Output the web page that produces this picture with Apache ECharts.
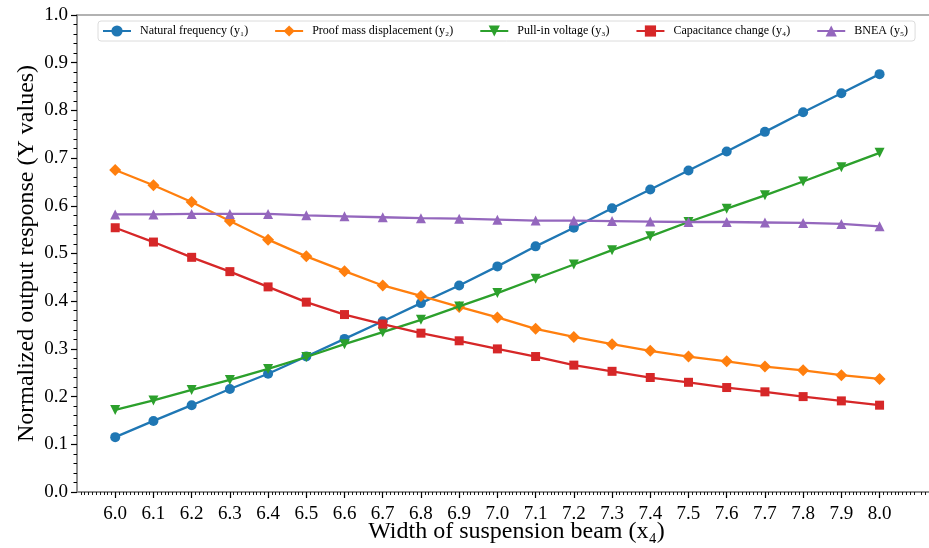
<!DOCTYPE html>
<html>
<head>
<meta charset="utf-8">
<script src="https://cdn.jsdelivr.net/npm/echarts@6/dist/echarts.min.js"></script>
<style>
  html, body { margin: 0; padding: 0; background: #fff; }
  #chart { width: 929px; height: 548px; }
</style>
</head>
<body>
<div id="chart"></div>
<script>
// Width of suspension beam (x4)
const beamWidth = [6.0, 6.1, 6.2, 6.3, 6.4, 6.5, 6.6, 6.7, 6.8, 6.9, 7.0,
                   7.1, 7.2, 7.3, 7.4, 7.5, 7.6, 7.7, 7.8, 7.9, 8.0];

// Normalized responses
const naturalFrequency = [0.115, 0.149, 0.182, 0.216, 0.248, 0.284, 0.321, 0.358, 0.396, 0.433, 0.473,
                          0.515, 0.554, 0.595, 0.634, 0.674, 0.714, 0.755, 0.796, 0.836, 0.876];
const proofMassDisp = [0.675, 0.643, 0.608, 0.568, 0.529, 0.494, 0.463, 0.433, 0.411, 0.388, 0.366,
                       0.342, 0.325, 0.310, 0.296, 0.284, 0.274, 0.263, 0.255, 0.245, 0.237];
const pullInVoltage = [0.172, 0.192, 0.214, 0.235, 0.258, 0.283, 0.310, 0.335, 0.361, 0.389, 0.417,
                       0.447, 0.477, 0.507, 0.536, 0.566, 0.594, 0.622, 0.651, 0.681, 0.711];
const capacitanceChange = [0.554, 0.524, 0.492, 0.462, 0.430, 0.398, 0.372, 0.352, 0.333, 0.317, 0.300,
                           0.284, 0.266, 0.253, 0.240, 0.230, 0.219, 0.210, 0.200, 0.191, 0.182];
const bnea = [0.582, 0.582, 0.583, 0.583, 0.583, 0.580, 0.578, 0.576, 0.574, 0.573, 0.571,
              0.569, 0.569, 0.568, 0.567, 0.566, 0.566, 0.565, 0.564, 0.562, 0.557];

const seriesNames = ['Natural frequency (y\u2081)', 'Proof mass displacement (y\u2082)',
                     'Pull-in voltage (y\u2083)', 'Capacitance change (y\u2084)', 'BNEA (y\u2085)'];
const colors = ['#1f77b4', '#ff7f0e', '#2ca02c', '#d62728', '#9467bd'];

const xTickValues = beamWidth;

const FONT = '"Liberation Serif", "Times New Roman", serif';

function pairs(ys) {
  return beamWidth.map((x, i) => [x, ys[i]]);
}

const markerDefs = [
  { symbol: 'circle', size: 10, rotate: 0 },
  { symbol: 'diamond', size: [12, 12], rotate: 0 },
  { symbol: 'triangle', size: 10, rotate: 180 },
  { symbol: 'rect', size: 9, rotate: 0 },
  { symbol: 'triangle', size: 10, rotate: 0 }
];

const values = [naturalFrequency, proofMassDisp, pullInVoltage, capacitanceChange, bnea];

const series = values.map((ys, i) => ({
  name: seriesNames[i],
  type: 'line',
  data: pairs(ys),
  symbol: markerDefs[i].symbol,
  symbolSize: markerDefs[i].size,
  symbolRotate: markerDefs[i].rotate,
  showAllSymbol: true,
  color: colors[i],
  lineStyle: { width: 2.3, color: colors[i] },
  itemStyle: { color: colors[i] },
  emphasis: { disabled: true },
  z: 2 + i
}));

const chart = echarts.init(document.getElementById('chart'), null, { renderer: 'canvas' });

chart.setOption({
  animation: false,
  backgroundColor: '#fff',
  grid: {
    left: 77, top: 15, right: -27, bottom: 56,
    outerBoundsMode: 'none',
    containLabel: false,
    show: true, borderColor: '#999', borderWidth: 1.5, backgroundColor: 'transparent'
  },
  legend: {
    left: 98, top: 21,
    itemWidth: 28, itemHeight: 14, itemGap: 26,
    padding: [4, 7, 4, 4],
    borderColor: '#dcdcdc', borderWidth: 1, borderRadius: 3,
    textStyle: { fontFamily: FONT, fontSize: 12, color: '#000', padding: [0, 0, 0, 4] },
    data: seriesNames
  },
  xAxis: {
    type: 'value',
    min: 5.9, max: 8.2, interval: 0.1,
    name: 'Width of suspension beam (x\u2084)',
    nameLocation: 'middle', nameGap: 28,
    nameMoveOverlap: false,
    nameTextStyle: { fontFamily: FONT, fontSize: 24, color: '#000' },
    axisLine: { show: true, onZero: false, lineStyle: { color: '#888', width: 1.5 } },
    axisTick: { show: true, customValues: xTickValues, length: 6, lineStyle: { color: '#000', width: 1.2 } },
    minorTick: { show: true, splitNumber: 10, length: 3, lineStyle: { color: '#000', width: 0.9 } },
    axisLabel: {
      customValues: xTickValues,
      formatter: v => v.toFixed(1),
      fontFamily: FONT, fontSize: 19, color: '#000', margin: 13
    },
    splitLine: { show: false },
    minorSplitLine: { show: false }
  },
  yAxis: {
    type: 'value',
    min: 0, max: 1.0, interval: 0.1,
    name: 'Normalized output response (Y values)',
    nameLocation: 'middle', nameGap: 38,
    nameMoveOverlap: false,
    nameTextStyle: { fontFamily: FONT, fontSize: 24, color: '#000' },
    axisLine: { show: true, onZero: false, lineStyle: { color: '#888', width: 1.5 } },
    axisTick: { show: true, length: 6, lineStyle: { color: '#000', width: 1.2 } },
    minorTick: { show: true, splitNumber: 5, length: 3.5, lineStyle: { color: '#000', width: 1 } },
    axisLabel: {
      formatter: v => v.toFixed(1),
      fontFamily: FONT, fontSize: 19, color: '#000', margin: 9
    },
    splitLine: { show: false },
    minorSplitLine: { show: false }
  },
  series: series
});
</script>
</body>
</html>
